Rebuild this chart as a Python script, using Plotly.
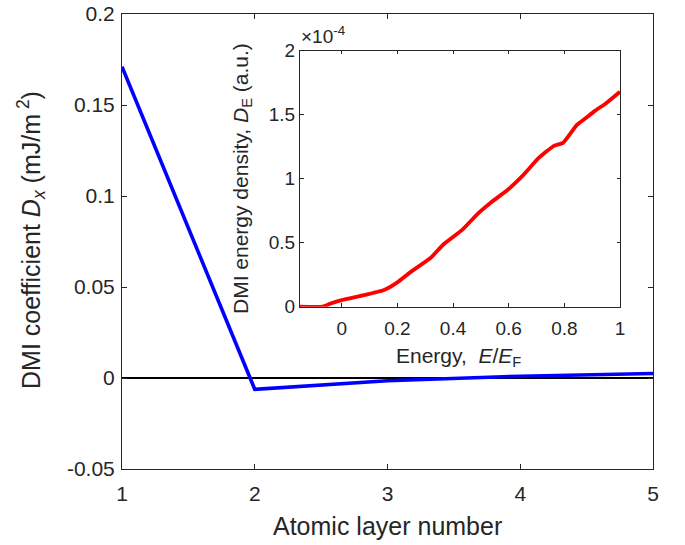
import plotly.graph_objects as go

# Main panel: interfacial DMI coefficient per atomic layer
layer = [1, 2, 3, 4, 5]
dmi_coeff = [0.171, -0.0062, -0.0015, 0.001, 0.0025]

# Inset: energy-resolved DMI density (in units of 1e-4)
energy = [-0.15, -0.07, -0.04, 0.0, 0.08, 0.152, 0.2, 0.247, 0.319, 0.367, 0.433,
          0.486, 0.534, 0.6, 0.653, 0.707, 0.761, 0.795, 0.845, 0.875, 0.91, 0.95, 1.0]
dmi_density = [0.0, 0.0, 0.025, 0.052, 0.09, 0.13, 0.19, 0.27, 0.38, 0.49, 0.6,
               0.72, 0.81, 0.92, 1.03, 1.16, 1.255, 1.28, 1.42, 1.47, 1.53, 1.59, 1.68]

main_yticks = [-0.05, 0, 0.05, 0.1, 0.15, 0.2]
main_yticktext = ["-0.05", "0", "0.05", "0.1", "0.15", "0.2"]
inset_xticks = [0, 0.2, 0.4, 0.6, 0.8, 1]
inset_yticks = [0, 0.5, 1, 1.5, 2]

FONT = "Liberation Sans, Arial, Helvetica, sans-serif"
TXT = "#262626"
AX = "#262626"

fig = go.Figure()

# zero reference line
fig.add_trace(go.Scatter(x=[layer[0], layer[-1]], y=[0, 0], mode="lines",
                         line=dict(color="black", width=2), showlegend=False,
                         hoverinfo="skip"))
fig.add_trace(go.Scatter(x=layer, y=dmi_coeff, mode="lines",
                         line=dict(color="#0000ff", width=3.6), showlegend=False))
fig.add_trace(go.Scatter(x=energy, y=dmi_density, mode="lines",
                         line=dict(color="#ff0000", width=3.8, shape="spline", smoothing=0.4),
                         xaxis="x2", yaxis="y2", showlegend=False))

W, H = 685, 545
L, R, T, B = 122, 653, 14, 469
pw, ph = R - L, B - T


def px(x):
    return (x - L) / pw


def py(y):
    return (B - y) / ph


axis_common = dict(showline=True, linecolor=AX, linewidth=1, mirror="ticks",
                   ticks="inside", tickcolor=AX, showgrid=False, zeroline=False,
                   automargin=False)
main_tick = dict(family=FONT, size=21, color=TXT)
inset_tick = dict(family=FONT, size=19, color=TXT)

fig.update_layout(
    width=W, height=H,
    margin=dict(l=L, r=W - R, t=T, b=H - B),
    plot_bgcolor="white", paper_bgcolor="white",
    xaxis=dict(range=[1, 5], tickvals=layer, ticklen=5, domain=[0, 1],
               tickfont=main_tick, ticklabelstandoff=6, **axis_common),
    yaxis=dict(range=[-0.05, 0.2], tickvals=main_yticks, ticktext=main_yticktext,
               ticklen=5, domain=[0, 1], tickfont=main_tick, ticklabelstandoff=2,
               **axis_common),
    xaxis2=dict(range=[-0.15, 1], tickvals=inset_xticks, ticklen=3.5,
                domain=[px(300), px(620)], anchor="y2", tickfont=inset_tick,
                ticklabelstandoff=4, **axis_common),
    yaxis2=dict(range=[0, 2], tickvals=inset_yticks, ticklen=3.5,
                domain=[py(306.7), py(50.7)], anchor="x2", tickfont=inset_tick,
                **axis_common),
    showlegend=False,
)

# white background behind inset
fig.add_shape(type="rect", xref="x2 domain", yref="y2 domain", x0=0, x1=1, y0=0, y1=1,
              fillcolor="white", line=dict(width=0), layer="below")

ann = []
ann.append(dict(text="Atomic layer number", x=px(387), y=py(526), xref="paper", yref="paper",
                showarrow=False, font=dict(family=FONT, size=25, color=TXT),
                xanchor="center", yanchor="middle"))
ann.append(dict(text="DMI coefficient <i>D</i><sub><i>x</i></sub> (mJ/m<sup> 2</sup>)",
                x=px(31), y=py(240), xref="paper", yref="paper", textangle=-90,
                showarrow=False, font=dict(family=FONT, size=25, color=TXT),
                xanchor="center", yanchor="middle"))
ann.append(dict(text="Energy,  <i>E</i>/<i>E</i><sub>F</sub>", x=px(458), y=py(357),
                xref="paper", yref="paper", showarrow=False,
                font=dict(family=FONT, size=21, color=TXT), xanchor="center", yanchor="middle"))
ann.append(dict(text="DMI energy density, <i>D</i><sub>E</sub> (a.u.)", x=px(242), y=py(179),
                xref="paper", yref="paper", textangle=-90, showarrow=False,
                font=dict(family=FONT, size=21, color=TXT), xanchor="center", yanchor="middle"))
ann.append(dict(text="\u00d710<sup>-4</sup>", x=px(299), y=py(49), xref="paper", yref="paper",
                showarrow=False, font=dict(family=FONT, size=19, color=TXT),
                xanchor="left", yanchor="bottom"))
fig.update_layout(annotations=ann)

fig.write_html("out.html")
